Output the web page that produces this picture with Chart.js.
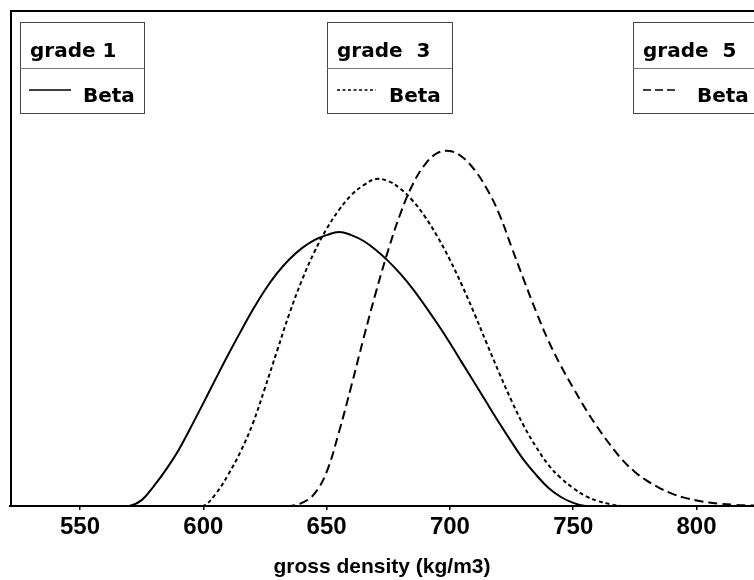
<!DOCTYPE html>
<html lang="en">
<head>
  <meta charset="UTF-8" />
  <title>gross density - Beta fits</title>
  <script src="https://cdn.jsdelivr.net/npm/chart.js"></script>
  <style>
    html,body{margin:0;padding:0;background:#fff;overflow:hidden;}
    canvas{display:block;}
  </style>
</head>
<body>
  <canvas id="densityChart" width="754" height="580"></canvas>

  <script>
    // gross density (kg/m3), shared x positions for all three curves
    const density=[520,525,530,535,540,545,550,555,560,565,570,575,580,585,590,595,600,605,610,615,
                   620,625,630,635,640,645,650,655,660,665,670,675,680,685,690,695,700,705,710,715,
                   720,725,730,735,740,745,750,755,760,765,770,775,780,785,790,795,800,805,810,815,
                   820,825];

    // fitted Beta densities (x 1e-3)
    const grade1=[0,0,0,0,0,0,0,0,0,0,0,
                  0.19,0.65,1.19,1.81,2.55,3.32,4.10,4.87,5.61,6.32,6.97,7.52,7.97,8.32,8.58,8.74,
                  8.84,8.74,8.55,8.26,7.90,7.48,7.00,6.45,5.87,5.26,4.61,3.97,3.32,2.68,2.06,1.48,
                  1.00,0.58,0.29,0.10,
                  0,0,0,0,0,0,0,0,0,0,0,0,0,0,0];
    const grade3=[0,0,0,0,0,0,0,0,0,0,0,0,0,0,0,0,0,
                  0.39,1.00,1.74,2.65,3.81,5.03,6.23,7.29,8.19,8.94,9.55,10.03,10.35,10.55,10.48,
                  10.23,9.84,9.32,8.68,7.94,7.10,6.19,5.23,4.29,3.39,2.58,1.90,1.32,0.90,0.58,0.32,
                  0.16,0.06,
                  0,0,0,0,0,0,0,0,0,0,0,0];
    const grade5=[0,0,0,0,0,0,0,0,0,0,0,0,0,0,0,0,0,0,0,0,0,0,0,0,
                  0.10,0.39,1.10,2.39,3.87,5.42,6.90,8.26,9.45,10.39,11.03,11.39,11.45,11.26,10.84,
                  10.23,9.42,8.35,7.29,6.26,5.32,4.52,3.81,3.13,2.52,1.97,1.48,1.10,0.81,0.58,0.40,
                  0.27,0.18,0.11,0.07,0.04,0.02,0.01];

    const xTicks=[550,600,650,700,750,800];
    const gradeLabels=['grade 1','grade  3','grade  5'];
    const fitLabel='Beta';

    const toPoints=ys=>density.map((x,i)=>({x,y:ys[i]}));

    // boxed legends + plot frame (SAS style)
    const framePlugin={
      id:'frame',
      afterDraw(chart){
        const {ctx,chartArea:a}=chart;
        ctx.save();
        ctx.strokeStyle='#000';
        ctx.lineWidth=2;
        ctx.beginPath();
        ctx.moveTo(a.left+1,a.bottom);
        ctx.lineTo(a.left+1,a.top);
        ctx.lineTo(a.right,a.top);
        ctx.stroke();

        const boxes=[
          {x:20, w:124, tx:30,  s0:29,  s1:71,  bx:83,  dash:[]},
          {x:327,w:125, tx:337, s0:337, s1:376, bx:389, dash:[3,2.5]},
          {x:633,w:125, tx:643, s0:643, s1:676, bx:697, dash:[8,4]}
        ];
        boxes.forEach((b,i)=>{
          ctx.strokeStyle='#444';
          ctx.lineWidth=1;
          ctx.setLineDash([]);
          ctx.strokeRect(b.x+0.5,22.5,b.w,91);
          ctx.strokeStyle='#777';
          ctx.beginPath();
          ctx.moveTo(b.x,68.5);ctx.lineTo(b.x+b.w,68.5);
          ctx.stroke();

          ctx.fillStyle='#000';
          ctx.font='bold 20px "DejaVu Sans"';
          ctx.textBaseline='alphabetic';
          ctx.fillText(gradeLabels[i],b.tx,57);
          ctx.fillText(fitLabel,b.bx,102);

          ctx.strokeStyle='#000';
          ctx.lineWidth=1.5;
          ctx.setLineDash(b.dash);
          ctx.beginPath();
          ctx.moveTo(b.s0,90);ctx.lineTo(b.s1,90);
          ctx.stroke();
        });
        ctx.restore();
      }
    };

    const line=(data,dash)=>({
      data:toPoints(data),
      borderColor:'#000',
      borderWidth:2,
      borderDash:dash,
      pointRadius:0,
      fill:false,
      tension:0.4
    });

    new Chart(document.getElementById('densityChart'),{
      type:'line',
      data:{datasets:[
        line(grade1,[]),
        line(grade3,[4,3]),
        line(grade5,[9,5])
      ]},
      options:{
        responsive:false,
        animation:false,
        devicePixelRatio:1,
        layout:{padding:{left:10,top:11,right:0,bottom:0}},
        plugins:{legend:{display:false},tooltip:{enabled:false}},
        scales:{
          x:{
            type:'linear',
            min:521.6,
            max:823.3,
            afterBuildTicks:s=>{s.ticks=xTicks.map(v=>({value:v}));},
            afterFit:s=>{s.height=74;},
            border:{display:true,color:'#000',width:2},
            grid:{drawOnChartArea:false,drawTicks:true,tickLength:4,color:'#000',lineWidth:1.5},
            ticks:{color:'#000',padding:3,maxRotation:0,
                   font:{family:'"Liberation Sans", Arial, sans-serif',size:24,weight:'bold'}},
            title:{display:true,text:'gross density (kg/m3)',color:'#000',
                   padding:{top:0,bottom:0},
                   font:{family:'"Liberation Sans", Arial, sans-serif',size:21,weight:'bold'}}
          },
          y:{
            display:false,
            min:0,
            max:15.97
          }
        }
      },
      plugins:[framePlugin]
    });
  </script>
</body>
</html>
